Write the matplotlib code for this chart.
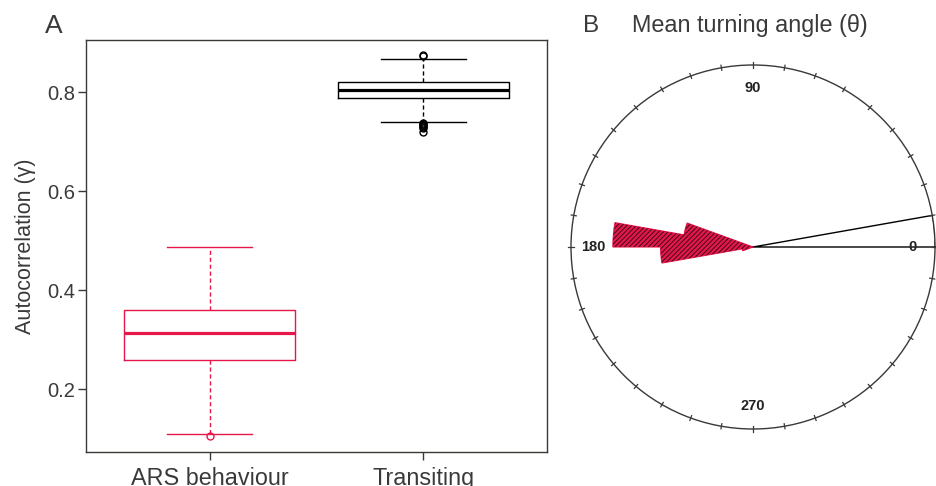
import numpy as np
import matplotlib
matplotlib.use("Agg")
import matplotlib.pyplot as plt

plt.rcParams['font.family'] = ['Liberation Sans', 'DejaVu Sans']

# ---- Data ----
categories = ["ARS behaviour", "Transiting"]
# boxplot summaries: whislo, q1, med, q3, whishi
ars_stats = [0.109, 0.259, 0.314, 0.360, 0.488]
trans_stats = [0.739, 0.787, 0.805, 0.820, 0.867]
ars_fliers = [0.105]
trans_fliers = [0.875, 0.872, 0.738, 0.736, 0.734, 0.732, 0.730, 0.728, 0.719]

# rose diagram (10-degree bins; start angle in degrees, relative length)
ars_bin_start = [160, 170, 180, 190]
ars_bin_len = [0.385, 0.77, 0.508, 0.06]
trans_bin_start = [0]
trans_bin_len = [1.0]
angle_labels = [0, 90, 180, 270]
circle_ticks = np.arange(0, 360, 10)

red = '#E5174B'
dark = '#3b3836'
txt = '#3a3a3a'

fig = plt.figure(figsize=(9.36, 4.86), dpi=100)

# ---- Panel A ----
axA = fig.add_axes([86/936, 34/486, 461/936, 412/486])
cols = [red, 'black']
stats = []
for s, fl, lab in [(ars_stats, ars_fliers, categories[0]), (trans_stats, trans_fliers, categories[1])]:
    stats.append(dict(whislo=s[0], q1=s[1], med=s[2], q3=s[3], whishi=s[4], fliers=fl, label=lab))
for i, (st, c) in enumerate(zip(stats, cols)):
    axA.bxp([st], positions=[i + 1], widths=0.8, showfliers=True,
            boxprops=dict(color=c, lw=1.0),
            medianprops=dict(color=c, lw=2.3),
            whiskerprops=dict(color=c, lw=1.0, linestyle=(0, (3, 2))),
            capprops=dict(color=c, lw=1.0),
            capwidths=0.4,
            flierprops=dict(marker='o', markersize=5, markerfacecolor='none',
                            markeredgecolor=c, markeredgewidth=1.0))
axA.set_xlim(0.42, 2.58)
axA.set_ylim(0.0735, 0.905)
axA.set_yticks([0.2, 0.4, 0.6, 0.8])
axA.set_yticklabels(['0.2', '0.4', '0.6', '0.8'])
axA.set_xticks([1, 2])
axA.set_xticklabels(categories)
for sp in axA.spines.values():
    sp.set_color(dark)
    sp.set_linewidth(1.0)
axA.tick_params(axis='y', direction='out', length=6, width=1, color=dark,
                labelsize=14.5, labelcolor=txt, pad=2)
axA.tick_params(axis='x', direction='out', length=6, width=1, color=dark,
                labelsize=16.8, labelcolor=txt, pad=5)
axA.set_ylabel('Autocorrelation (γ)', fontsize=15.5, color=txt, labelpad=8)
fig.text(45/936, 1 - 33/486, 'A', fontsize=19, color=txt, ha='left', va='baseline')

# ---- Panel B ----
axB = fig.add_axes([571/936, 57/486, 364/936, 364/486], projection='polar')
axB.set_theta_zero_location('E')
axB.set_theta_direction(1)
axB.set_ylim(0, 1)
axB.grid(False)
axB.set_yticks([])
axB.set_xticks([])
axB.spines['polar'].set_color(dark)
axB.spines['polar'].set_linewidth(1.0)

# tick marks crossing the outer circle
for t in np.deg2rad(circle_ticks):
    axB.plot([t, t], [0.986, 1.014], color=dark, lw=0.9, clip_on=False, zorder=6)

th = np.deg2rad(ars_bin_start)
w = np.deg2rad(10)
axB.bar(th, ars_bin_len, width=w, align='edge', color=red, edgecolor=red, lw=0.8, zorder=2)
plt.rcParams['hatch.linewidth'] = 0.75
axB.bar(th, ars_bin_len, width=w, align='edge', facecolor='none', edgecolor='#4a0a1c',
        hatch='///////', lw=0, zorder=3)
axB.bar(np.deg2rad(trans_bin_start), trans_bin_len, width=w, align='edge',
        facecolor='white', edgecolor='black', lw=1.0, zorder=4)

for a in angle_labels:
    axB.text(np.deg2rad(a), 0.875, str(a), ha='center', va='center',
             fontsize=10.5, fontweight='bold', color='#222222', zorder=5)

fig.text(583/936, 1 - 32/486, 'B', fontsize=17.5, color=txt, ha='left', va='baseline')
fig.text(632/936, 1 - 32/486, 'Mean turning angle (θ)', fontsize=16.8, color=txt,
         ha='left', va='baseline')

fig.savefig('out.png', dpi=100)
